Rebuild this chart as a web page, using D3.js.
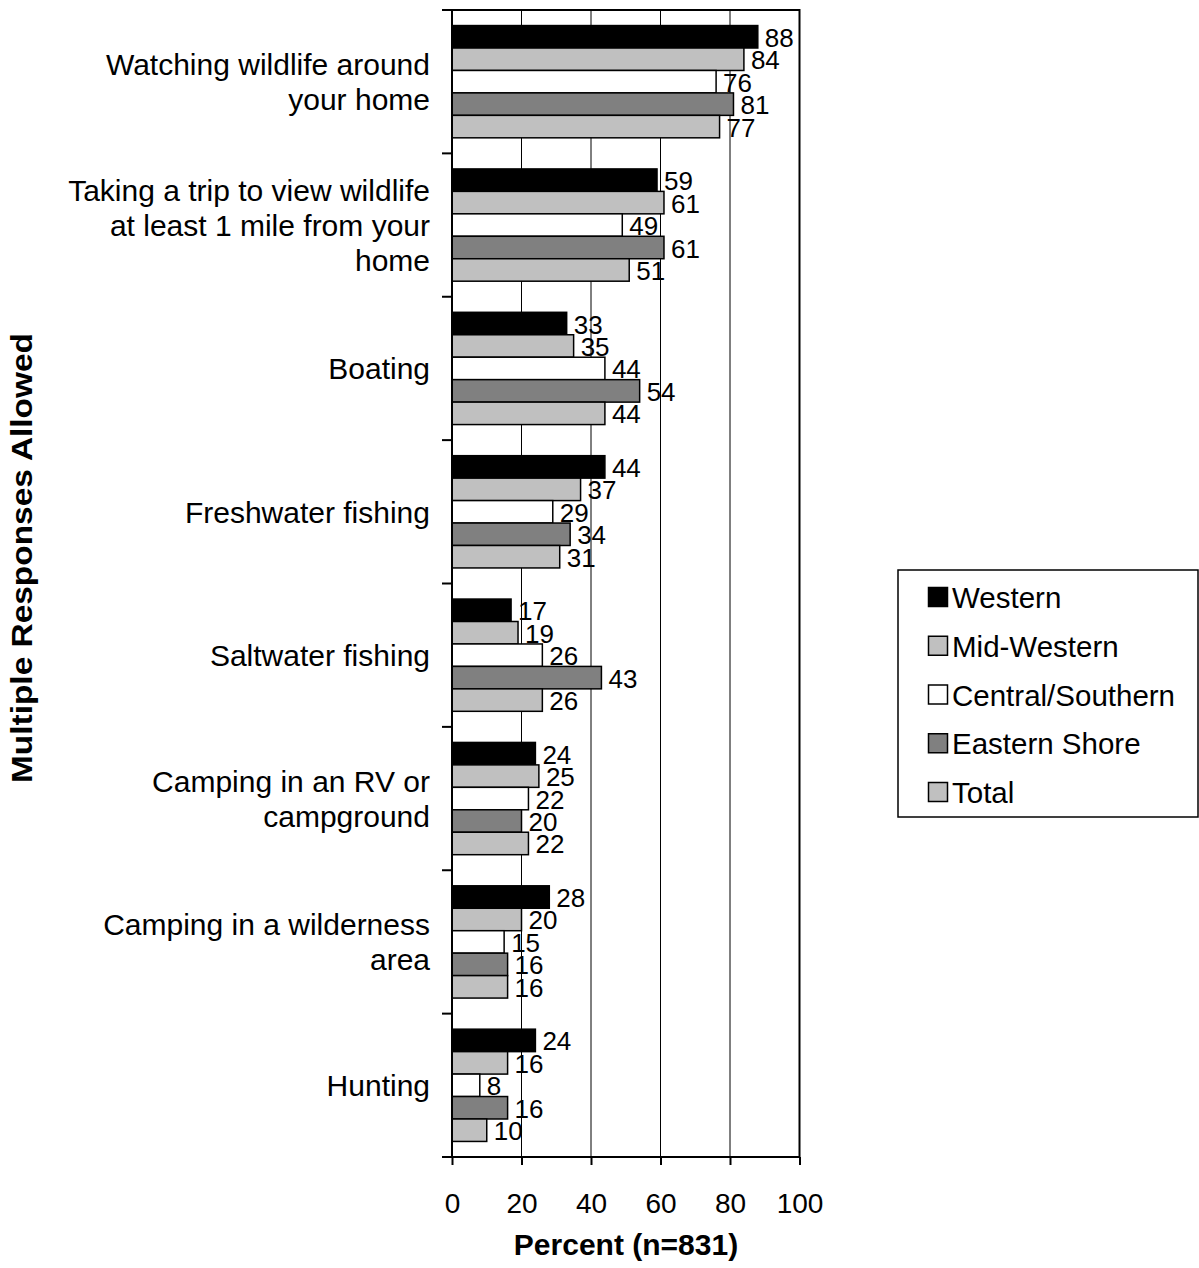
<!DOCTYPE html>
<html><head><meta charset="utf-8">
<script src="https://cdn.jsdelivr.net/npm/d3@7"></script>
<style>body{margin:0;background:#fff}svg{display:block;font-family:Arial,"Liberation Sans",sans-serif}</style>
</head><body>
<script>
const categories = [
  ["Watching wildlife around","your home"],
  ["Taking a trip to view wildlife","at least 1 mile from your","home"],
  ["Boating"],
  ["Freshwater fishing"],
  ["Saltwater fishing"],
  ["Camping in an RV or","campground"],
  ["Camping in a wilderness","area"],
  ["Hunting"]
];
const series = ["Western","Mid-Western","Central/Southern","Eastern Shore","Total"];
const western   = [88,59,33,44,17,24,28,24];
const midWestern= [84,61,35,37,19,25,20,16];
const central   = [76,49,44,29,26,22,15,8];
const eastern   = [81,61,54,34,43,20,16,16];
const total     = [77,51,44,31,26,22,16,10];
const xTicks = [0,20,40,60,80,100];
const colors = ["#000000","#c0c0c0","#ffffff","#808080","#c0c0c0"];
const values = [western, midWestern, central, eastern, total];

const W=1199,H=1268;
const svg=d3.select("body").append("svg").attr("width",W).attr("height",H);
const L=452,R=799.5,T=10,B=1157;
const x=d3.scaleLinear().domain([0,100]).range([L,R]);
const y0=d3.scaleBand().domain(d3.range(categories.length)).range([T,B]).paddingInner(0.217).paddingOuter(0.1085);
const y1=d3.scaleBand().domain(d3.range(series.length)).range([0,y0.bandwidth()]);

// gridlines
svg.append("g").selectAll("line").data(xTicks.slice(1,-1)).join("line")
  .attr("x1",d=>x(d)).attr("x2",d=>x(d)).attr("y1",T).attr("y2",B)
  .attr("stroke","#000").attr("stroke-width",1);

// bars
const g=svg.append("g");
categories.forEach((c,i)=>{
  series.forEach((s,j)=>{
    const v=values[j][i];
    const yy=y0(i)+y1(j);
    g.append("rect").attr("x",x(0)).attr("y",yy).attr("width",x(v)-x(0)).attr("height",y1.bandwidth())
      .attr("fill",colors[j]).attr("stroke","#000").attr("stroke-width",1.5);
  });
});
categories.forEach((c,i)=>{
  series.forEach((s,j)=>{
    const v=values[j][i];
    const yy=y0(i)+y1(j);
    g.append("text").attr("x",x(v)+7).attr("y",yy+y1.bandwidth()/2+10)
      .attr("font-size",26).attr("fill","#000").text(v);
  });
});

// frame
svg.append("rect").attr("x",L).attr("y",T).attr("width",R-L).attr("height",B-T)
  .attr("fill","none").attr("stroke","#000").attr("stroke-width",2);

// x axis
const xa=svg.append("g").attr("transform",`translate(0,${B})`)
  .call(d3.axisBottom(x).tickValues(xTicks).tickSize(8).tickPadding(0).tickFormat(d3.format("d")));
xa.select(".domain").remove();
xa.selectAll("line").attr("stroke","#000").attr("stroke-width",2);
xa.selectAll("text").attr("font-size",28).attr("font-family","Arial, Liberation Sans, sans-serif")
  .attr("fill","#000").attr("dy",null).attr("y",56);

// y category ticks
const yTickPos=d3.range(categories.length+1).map(i=>T+(B-T)*i/categories.length);
svg.append("g").selectAll("line").data(yTickPos).join("line")
  .attr("x1",L-10).attr("x2",L).attr("y1",d=>d).attr("y2",d=>d)
  .attr("stroke","#000").attr("stroke-width",2);

// category labels
categories.forEach((lines,i)=>{
  const cy=T+(B-T)*(i+0.5)/categories.length;
  const lh=35;
  const t=svg.append("text").attr("text-anchor","end").attr("font-size",30).attr("fill","#000");
  lines.forEach((ln,k)=>{
    t.append("tspan").attr("x",430).attr("y",cy+(k-(lines.length-1)/2)*lh+11).text(ln);
  });
});

// axis titles
svg.append("text").attr("x",626).attr("y",1255).attr("text-anchor","middle")
  .attr("font-size",30).attr("font-weight","bold").text("Percent (n=831)");
svg.append("text").attr("transform","translate(32,558) rotate(-90)").attr("text-anchor","middle")
  .attr("font-size",30).attr("font-weight","bold")
  .attr("textLength",450).attr("lengthAdjust","spacingAndGlyphs").text("Multiple Responses Allowed");

// legend
const lg=svg.append("g");
lg.append("rect").attr("x",898).attr("y",570).attr("width",300).attr("height",247)
  .attr("fill","#fff").attr("stroke","#000").attr("stroke-width",1.5);
series.forEach((s,j)=>{
  const base=608+j*48.75;
  lg.append("rect").attr("x",928.5).attr("y",base-20.5).attr("width",19).attr("height",19)
    .attr("fill",colors[j]).attr("stroke","#000").attr("stroke-width",1.5);
  lg.append("text").attr("x",952).attr("y",base).attr("font-size",29.5).attr("fill","#000").text(s);
});
</script>
</body></html>
